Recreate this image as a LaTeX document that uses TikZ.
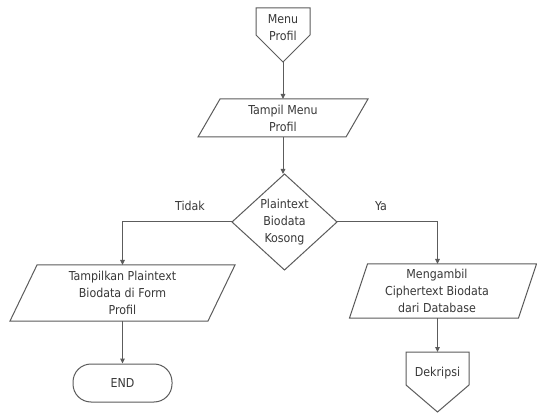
\documentclass[tikz,border=0pt]{standalone}
\usepackage{fontspec}
\setmainfont{DejaVu Sans Condensed}
\usetikzlibrary{arrows.meta,calc}
\definecolor{linegray}{HTML}{5C5C5C}
\definecolor{textgray}{HTML}{383838}
\tikzset{
  frame/.style={draw=none, inner sep=0pt, outer sep=0pt},
  lbl/.style={font=\fontsize{12.3}{17}\selectfont, text=textgray, align=center, inner sep=0pt},
  edge/.style={draw=linegray, line width=1pt},
  flow/.style={edge, -{Triangle[length=5pt,width=4.5pt]}},
  outline/.style={draw=linegray, line width=1pt, line join=miter}
}
\begin{document}
\begin{tikzpicture}[x=1pt,y=1pt]
\useasboundingbox (0,0) rectangle (537,412);
\fill[white] (0,0) rectangle (537,412);

% off-page connector: Menu Profil
\node[frame, minimum width=54pt, minimum height=54pt] (menu) at (283,377) {};
\draw[outline] (menu.north west) -- (menu.north east) -- ($(menu.north east)+(0,-27)$)
  -- (menu.south) -- ($(menu.north west)+(0,-27)$) -- cycle;
\node[lbl] at (283,384) {Menu\\Profil};

% input: Tampil Menu Profil
\node[frame, minimum width=170pt, minimum height=38pt] (tampil) at (283,294) {};
\draw[outline] ($(tampil.north west)+(22,0)$) -- (tampil.north east)
  -- ($(tampil.south east)+(-22,0)$) -- (tampil.south west) -- cycle;
\node[lbl] at (tampil.center) {Tampil Menu\\Profil};

% decision
\node[frame, minimum width=105pt, minimum height=96pt] (cek) at (284.5,190) {};
\draw[outline] (cek.north) -- (cek.east) -- (cek.south) -- (cek.west) -- cycle;
\node[lbl] at (cek.center) {Plaintext\\Biodata\\Kosong};

% left branch: show plaintext
\node[frame, minimum width=225pt, minimum height=56pt] (tampilkan) at (122.5,119) {};
\draw[outline] ($(tampilkan.north west)+(27,0)$) -- (tampilkan.north east)
  -- ($(tampilkan.south east)+(-27,0)$) -- (tampilkan.south west) -- cycle;
\node[lbl] at (tampilkan.center) {Tampilkan Plaintext\\Biodata di Form\\Profil};

% terminator
\node[draw=linegray, line width=1pt, rounded corners=18pt, minimum width=99pt,
  minimum height=38pt, inner sep=0pt] (end) at (122.5,29) {};
\node[lbl] at (end.center) {END};

% right branch: fetch ciphertext
\node[frame, minimum width=187pt, minimum height=54pt] (ambil) at (443,121) {};
\draw[outline] ($(ambil.north west)+(18,0)$) -- (ambil.north east)
  -- ($(ambil.south east)+(-18,0)$) -- (ambil.south west) -- cycle;
\node[lbl] at (437,121) {Mengambil\\Ciphertext Biodata\\dari Database};

% off-page connector: Dekripsi
\node[frame, minimum width=63pt, minimum height=60pt] (dek) at (437.5,30) {};
\draw[outline] (dek.north west) -- (dek.north east) -- ($(dek.north east)+(0,-33)$)
  -- (dek.south) -- ($(dek.north west)+(0,-33)$) -- cycle;
\node[lbl] at (437.5,39) {Dekripsi};

% connectors
\draw[flow] (menu.south) -- (tampil.north);
\draw[flow] (tampil.south) -- (cek.north -| tampil.south);
\draw[flow] (cek.west) -| (tampilkan.north);
\draw[flow] (cek.east) -| (dek.north |- ambil.north);
\draw[flow] (tampilkan.south) -- (end.north);
\draw[flow] (dek.north |- ambil.south) -- (dek.north);

% branch labels
\node[lbl] at (190,206) {Tidak};
\node[lbl] at (381,206) {Ya};
\end{tikzpicture}
\end{document}
